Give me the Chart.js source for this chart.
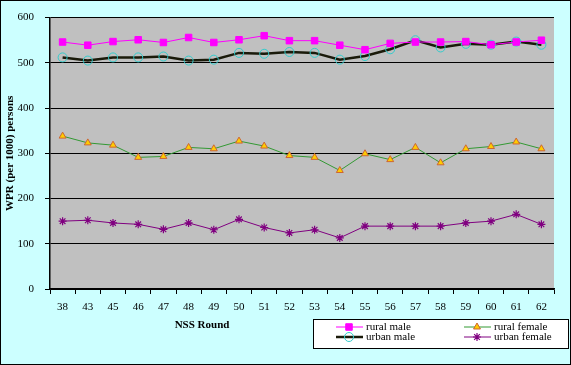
<!DOCTYPE html>
<html>
<head>
<meta charset="utf-8">
<script src="https://cdn.jsdelivr.net/npm/chart.js@4/dist/chart.umd.min.js"></script>
<style>
  html, body { margin: 0; padding: 0; background: #ccffff; }
  #wrap { width: 571px; height: 365px; position: relative; }
</style>
</head>
<body>
<div id="wrap"><canvas id="wprChart" width="571" height="365"></canvas></div>
<script>
// NSS rounds
const rounds = ["38", "43", "45", "46", "47", "48", "49", "50", "51", "52",
                "53", "54", "55", "56", "57", "58", "59", "60", "61", "62"];

// WPR per 1000 persons
const ruralMale   = [546, 539, 547, 551, 545, 556, 545, 551, 560, 549,
                     549, 539, 529, 543, 546, 546, 547, 540, 546, 550];
const urbanMale   = [512, 505, 512, 512, 514, 505, 507, 522, 520, 524,
                     522, 507, 515, 530, 550, 534, 542, 540, 547, 540];
const ruralFemale = [338, 323, 318, 291, 293, 313, 310, 327, 316, 295,
                     291, 262, 299, 286, 313, 279, 310, 315, 325, 310];
const urbanFemale = [150, 152, 146, 143, 132, 146, 131, 154, 136, 124,
                     131, 113, 139, 139, 139, 139, 146, 150, 165, 143];

const yTicks = [0, 100, 200, 300, 400, 500, 600];

const serif = "'Liberation Serif', 'Times New Roman', serif";

// 회색 plot 영역 + 바깥 테두리 + x축 제목 + 범례 상자
const decor = {
  id: "decor",
  beforeDraw(chart) {
    const { ctx, chartArea: a } = chart;
    ctx.save();
    ctx.fillStyle = "#ccffff";
    ctx.fillRect(0, 0, chart.width, chart.height);
    ctx.fillStyle = "#c0c0c0";
    ctx.fillRect(a.left, a.top, a.right - a.left, a.bottom - a.top);
    ctx.restore();
  },
  afterDraw(chart) {
    const ctx = chart.ctx;
    ctx.save();
    ctx.strokeStyle = "#000";
    ctx.lineWidth = 1;
    ctx.strokeRect(0.5, 0.5, chart.width - 1, chart.height - 1);

    // x축 제목
    ctx.fillStyle = "#000";
    ctx.font = "bold 11px " + serif;
    ctx.textAlign = "center";
    ctx.textBaseline = "middle";
    ctx.fillText("NSS Round", 202, 325);

    // 범례
    ctx.fillStyle = "#fff";
    ctx.fillRect(313.5, 319.5, 255, 29);
    ctx.strokeStyle = "#000";
    ctx.strokeRect(313.5, 319.5, 255, 29);

    chart.data.datasets.forEach((ds, i) => {
      const col = Math.floor(i / 2), row = i % 2;
      const x0 = col === 0 ? 336 : 464;
      const y = row === 0 ? 327 : 337;
      ctx.strokeStyle = ds.borderColor;
      ctx.lineWidth = ds.borderWidth;
      ctx.beginPath();
      ctx.moveTo(x0, y);
      ctx.lineTo(x0 + 27, y);
      ctx.stroke();
      ctx.fillStyle = ds.pointBackgroundColor;
      ctx.strokeStyle = ds.pointBorderColor;
      ctx.lineWidth = ds.pointBorderWidth;
      Chart.helpers.drawPoint(ctx, {
        pointStyle: ds.pointStyle, radius: ds.pointRadius,
        borderWidth: ds.pointBorderWidth, rotation: 0
      }, x0 + 13, y);
      ctx.fillStyle = "#000";
      ctx.font = "11px " + serif;
      ctx.textAlign = "left";
      ctx.textBaseline = "middle";
      ctx.fillText(ds.label, x0 + 30, y);
    });
    ctx.restore();
  }
};

const ctx = document.getElementById("wprChart").getContext("2d");
new Chart(ctx, {
  type: "line",
  data: {
    labels: rounds,
    datasets: [
      {
        label: "rural male",
        data: ruralMale,
        borderColor: "#ff00ff",
        borderWidth: 1,
        pointStyle: "rect",
        pointRadius: 4.6,
        pointBackgroundColor: "#ff00ff",
        pointBorderColor: "#ff00ff",
        pointBorderWidth: 1,
      },
      {
        label: "urban male",
        data: urbanMale,
        borderColor: "#1a1a0a",
        borderWidth: 2.5,
        pointStyle: "circle",
        pointRadius: 4.5,
        pointBackgroundColor: "rgba(0,0,0,0)",
        pointBorderColor: "#33cccc",
        pointBorderWidth: 1,
      },
      {
        label: "rural female",
        data: ruralFemale,
        borderColor: "#339933",
        borderWidth: 1,
        pointStyle: "triangle",
        pointRadius: 4,
        pointBackgroundColor: "#ffcc00",
        pointBorderColor: "#cc6633",
        pointBorderWidth: 1,
      },
      {
        label: "urban female",
        data: urbanFemale,
        borderColor: "#800080",
        borderWidth: 1,
        pointStyle: "star",
        pointRadius: 4,
        pointBackgroundColor: "#800080",
        pointBorderColor: "#800080",
        pointBorderWidth: 1.2,
      },
    ],
  },
  options: {
    responsive: false,
    animation: false,
    layout: { padding: { top: 17, right: 17, bottom: 0, left: 0 } },
    plugins: {
      legend: { display: false },
      tooltip: { enabled: false },
    },
    scales: {
      x: {
        offset: true,
        afterFit: (s) => { s.height = 76; },
        grid: {
          drawOnChartArea: false,
          drawTicks: true,
          tickLength: 5,
          offset: true,
          color: "#000",
        },
        border: { color: "#000", width: 1.5 },
        ticks: {
          color: "#000",
          padding: 7,
          maxRotation: 0,
          autoSkip: false,
          font: { family: serif, size: 11 },
        },
      },
      y: {
        min: 0,
        max: 600,
        afterFit: (s) => { s.width = 50; },
        afterBuildTicks: (s) => { s.ticks = yTicks.map((v) => ({ value: v })); },
        grid: {
          color: "#000",
          lineWidth: 1,
          tickLength: 5,
        },
        border: { color: "#000", width: 1.5 },
        ticks: {
          color: "#000",
          padding: 11,
          font: { family: serif, size: 11 },
        },
        title: {
          display: true,
          text: "WPR (per 1000) persons",
          color: "#000",
          padding: { top: 4, bottom: 4 },
          font: { family: serif, size: 11, weight: "bold" },
        },
      },
    },
  },
  plugins: [decor],
});
</script>
</body>
</html>
